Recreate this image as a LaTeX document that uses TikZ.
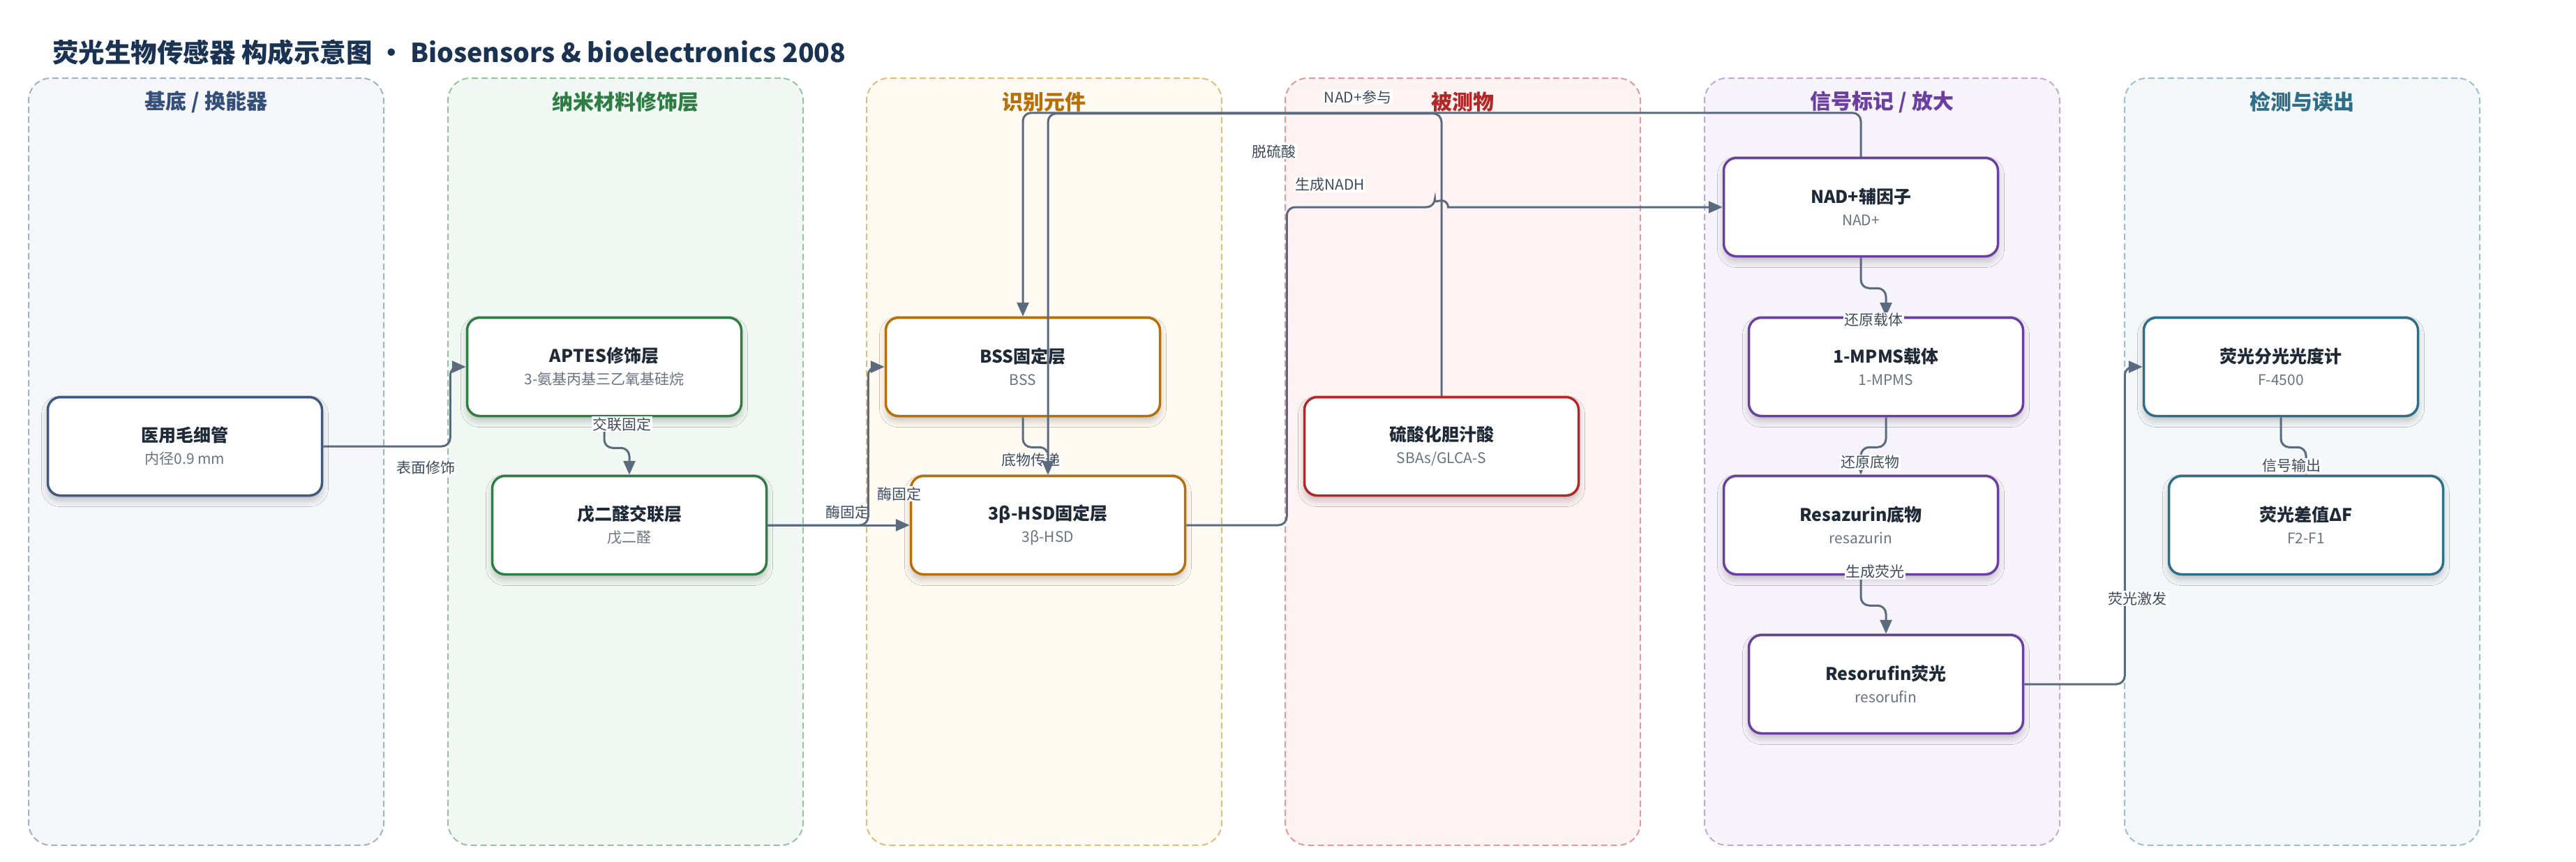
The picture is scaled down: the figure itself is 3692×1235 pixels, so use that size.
\documentclass[tikz,border=0pt]{standalone}
\usepackage{fontspec}
\setmainfont{Noto Sans CJK SC}
\usetikzlibrary{arrows.meta,shadows.blur,calc}
\definecolor{ink}{HTML}{1F2937}
\definecolor{subc}{HTML}{6B7280}
\definecolor{edgec}{HTML}{5B6B7F}
\definecolor{lblc}{HTML}{3F4A5A}
\definecolor{titlec}{HTML}{1B3352}
\definecolor{fA}{HTML}{F5F6FA}\definecolor{bA}{HTML}{A3B1C6}\definecolor{tA}{HTML}{34507A}\definecolor{nA}{HTML}{3E5A80}
\definecolor{fB}{HTML}{F1F8F3}\definecolor{bB}{HTML}{93C4A3}\definecolor{tB}{HTML}{2E7D45}
\definecolor{fC}{HTML}{FEF9F1}\definecolor{bC}{HTML}{E2BD7A}\definecolor{tC}{HTML}{B5700A}
\definecolor{fD}{HTML}{FDF3F2}\definecolor{bD}{HTML}{E19A9A}\definecolor{tD}{HTML}{B22727}
\definecolor{fE}{HTML}{F7F3FA}\definecolor{bE}{HTML}{C3A6DC}\definecolor{tE}{HTML}{6B3FA0}
\definecolor{fF}{HTML}{F3F7F8}\definecolor{bF}{HTML}{9BBFCB}\definecolor{tF}{HTML}{2F6E89}
\newcommand\ttl[1]{{\fontsize{25}{32}\selectfont\bfseries\color{ink}#1}}
\begin{document}
\begin{tikzpicture}[x=1pt,y=-1pt,
  lane/.style 2 args={draw=#1, fill=#2, dash pattern=on 9pt off 5pt, line width=2pt, rounded corners=32pt, minimum width=509pt, minimum height=1100pt, inner sep=0pt},
  lanetitle/.style={font=\fontsize{30}{30}\selectfont\bfseries, text=#1, inner sep=0pt},
  box/.style={draw=#1, fill=white, line width=3.5pt, rounded corners=18pt, minimum width=393pt, minimum height=141pt, align=center, font=\fontsize{21}{32}\selectfont, text=subc,
    blur shadow={shadow xshift=0pt, shadow yshift=-7pt, shadow blur radius=9pt, shadow opacity=22}},
  conn/.style={draw=edgec, line width=3pt, rounded corners=12pt, -{Triangle[length=20pt,width=17pt]}},
  lbl/.style={fill=white, inner sep=1.5pt, font=\fontsize{21}{21}\selectfont, text=lblc}
]
\useasboundingbox (0,0) rectangle (3692,1235);
\fill[white] (0,0) rectangle (3692,1235);

% title
\node[anchor=west, inner sep=0pt, font=\fontsize{37.5}{37.5}\selectfont\bfseries, text=titlec] (title) at (75,75)
  {荧光生物传感器 构成示意图 · Biosensors \& bioelectronics 2008};

% lanes
\node[lane={bA}{fA}] (L1) at (295.5,662) {};
\node[lane={bB}{fB}] (L2) at (896.5,662) {};
\node[lane={bC}{fC}] (L3) at (1496.5,662) {};
\node[lane={bD}{fD}] (L4) at (2096.5,662) {};
\node[lane={bE}{fE}] (L5) at (2697.5,662) {};
\node[lane={bF}{fF}] (L6) at (3299.5,662) {};
\node[lanetitle=tA] (T1) at (295.5,146) {基底 / 换能器};
\node[lanetitle=tB] (T2) at (896.5,146) {纳米材料修饰层};
\node[lanetitle=tC] (T3) at (1496.5,146) {识别元件};
\node[lanetitle=tD] (T4) at (2096.5,146) {被测物};
\node[lanetitle=tE] (T5) at (2697.5,146) {信号标记 / 放大};
\node[lanetitle=tF] (T6) at (3299.5,146) {检测与读出};

% nodes
\node[box=nA] (cap) at (265,640) {\ttl{医用毛细管}\\内径0.9 mm};
\node[box=tB] (aptes) at (866,526) {\ttl{APTES修饰层}\\3-氨基丙基三乙氧基硅烷};
\node[box=tB] (glu) at (902,753) {\ttl{戊二醛交联层}\\戊二醛};
\node[box=tC] (bss) at (1466,526) {\ttl{BSS固定层}\\BSS};
\node[box=tC] (hsd) at (1502,753) {\ttl{3β-HSD固定层}\\3β-HSD};
\node[box=tD] (sba) at (2066,640) {\ttl{硫酸化胆汁酸}\\SBAs/GLCA-S};
\node[box=tE] (nad) at (2667,297) {\ttl{NAD+辅因子}\\NAD+};
\node[box=tE] (mpms) at (2703,526) {\ttl{1-MPMS载体}\\1-MPMS};
\node[box=tE] (resa) at (2667,753) {\ttl{Resazurin底物}\\resazurin};
\node[box=tE] (reso) at (2703,981) {\ttl{Resorufin荧光}\\resorufin};
\node[box=tF] (spec) at (3269,526) {\ttl{荧光分光光度计}\\F-4500};
\node[box=tF] (df) at (3305,753) {\ttl{荧光差值ΔF}\\F2-F1};

% connectors
\draw[conn] (cap.east) -- ++(182,0) |- (aptes.west);
\node[lbl] (e1) at (610,670) {表面修饰};
\draw[conn] (aptes.south) -- ++(0,44) -| (glu.north);
\node[lbl] (e2) at (891,608) {交联固定};
\draw[conn] (glu.east) -- (hsd.west);
\node[lbl] (e3) at (1215,734) {酶固定};
\draw[conn] (glu.east) -- ++(144,0) |- (bss.west);
\node[lbl] (e4) at (1289,708) {酶固定};
\draw[conn] (bss.south) -- ++(0,43) -| (hsd.north);
\node[lbl] (e5) at (1477,660) {底物传递};
\draw[conn] (nad.north) -- ++(0,-63) -| (bss.north);
\node[lbl] (e6) at (1946,139) {NAD+参与};
\draw[conn] (sba.north) -- ++(0,-405) -| (hsd.north);
\node[lbl] (e7) at (1826,217) {脱硫酸};
\coordinate (hop) at ($(sba.north |- nad.west)+(-9.5,0)$);
\draw[conn] (hsd.east) -- ++(144,0) |- (hop) [sharp corners] arc[start angle=180,end angle=0,radius=9.5pt] -- (nad.west);
\node[lbl] (e8) at (1906,265) {生成NADH};
\draw[conn] (nad.south) -- ++(0,44) -| (mpms.north);
\node[lbl] (e9) at (2685,459) {还原载体};
\draw[conn] (mpms.south) -- ++(0,43) -| (resa.north);
\node[lbl] (e10) at (2680,663) {还原底物};
\draw[conn] (resa.south) -- ++(0,43) -| (reso.north);
\node[lbl] (e11) at (2687,820) {生成荧光};
\draw[conn] (reso.east) -- ++(144,0) |- (spec.west);
\node[lbl] (e12) at (3063,858) {荧光激发};
\draw[conn] (spec.south) -- ++(0,43) -| (df.north);
\node[lbl] (e13) at (3284,668) {信号输出};
\end{tikzpicture}
\end{document}
